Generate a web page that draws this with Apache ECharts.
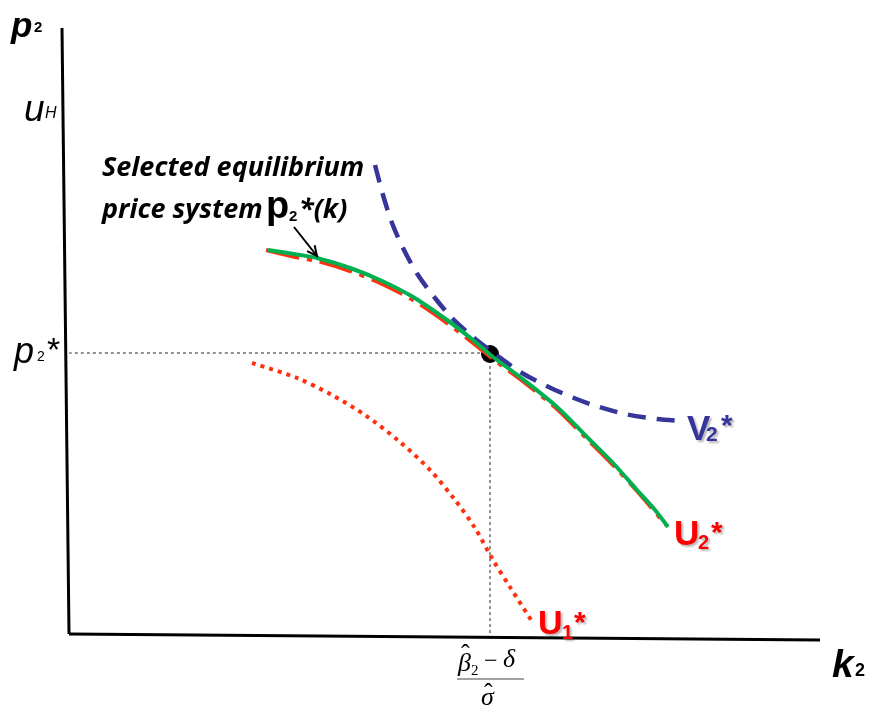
<!DOCTYPE html>
<html>
<head>
<meta charset="utf-8">
<script src="https://cdn.jsdelivr.net/npm/echarts@6/dist/echarts.min.js"></script>
<style>
  html, body { margin: 0; background: #fff; }
  #chart { width: 873px; height: 719px; }
</style>
</head>
<body>
<div id="chart"></div>
<script>
// schematic: k2 along the bottom, p2 up the side (units)
const axisYK = [-7, 0];
const axisYP = [606, 0];
const axisXK = [0, 751];
const axisXP = [0, -6];

// selected equilibrium price system p2*(k)
const greenK = [199, 231, 248, 281, 311, 344, 378, 404, 424, 451, 488, 518, 544, 568, 586, 599];
const greenP = [384, 379, 376, 366, 354, 337, 314, 294, 277, 257, 227, 197, 171, 144, 124, 107];

// U2*
const u2K = [197, 231, 248, 281, 311, 344, 378, 404, 424, 451, 488, 518, 544, 568, 597];
const u2P = [384, 376, 373, 363, 351, 334, 311, 291, 275, 255, 225, 195, 169, 143, 109];

// V2*
const v2K = [306, 314, 323, 335, 349, 366, 383, 404, 426, 453, 486, 521, 556, 588, 613];
const v2P = [469, 439, 411, 384, 359, 336, 316, 297, 280, 261, 244, 230, 220, 215, 213];

// U1*
const u1K = [183, 228, 261, 296, 331, 361, 386, 406, 424, 441, 464];
const u1P = [271, 256, 240, 219, 192, 164, 134, 106, 74, 47, 11];

// equilibrium point
const eqK = 421;
const eqP = 280;

// arrow from the caption to the curve
const arrowK = [225, 248];
const arrowP = [407, 378];

function pts(ks, ps) {
  return ks.map((k, i) => [k, ps[i]]);
}

const chart = echarts.init(document.getElementById('chart'));

function line(data, color, width, type, z) {
  return {
    type: 'line',
    data: data,
    showSymbol: false,
    symbol: 'none',
    smooth: 0.3,
    silent: true,
    z: z,
    lineStyle: { color: color, width: width, type: type, cap: 'butt' }
  };
}

const SANS = '"Liberation Sans", Arial, sans-serif';
const OPEN = '"Open Sans", sans-serif';
const SERIF = '"Liberation Serif", "Times New Roman", serif';
const shadow = { textShadowColor: 'rgba(0,0,0,0.28)', textShadowOffsetX: 2, textShadowOffsetY: 2, textShadowBlur: 2 };

function txt(text, x, y, font, fill, extra) {
  return {
    type: 'text',
    silent: true,
    z: 20,
    style: Object.assign({
      text: text, x: x, y: y, font: font, fill: fill || '#000',
      textAlign: 'left', textVerticalAlign: 'middle'
    }, extra || {})
  };
}

const red = '#ff0000';
const blue = '#35359a';

const texts = [
  // axis names
  txt('p', 11, 27, 'italic bold 35px ' + SANS),
  txt('2', 34, 28, 'bold 15px ' + SANS),
  txt('u', 24, 111, 'italic 37px ' + SANS),
  txt('H', 45, 114, 'italic 16px ' + SANS),
  txt('k', 832, 666, 'italic bold 39px ' + SANS),
  txt('2', 855, 671, 'bold 18px ' + SANS),
  // p2* on the side
  txt('p', 14, 353, 'italic 36px ' + SANS),
  txt('2', 37, 357, '14px ' + SANS),
  txt('*', 47, 352, '34px ' + SANS),
  // caption
  txt('Selected equilibrium', 102, 168, 'italic bold 27px ' + OPEN),
  txt('price system', 102, 210, 'italic bold 27px ' + OPEN),
  txt('p', 266, 208, 'bold 38px ' + SANS),
  txt('2', 289, 217, 'bold 15px ' + SANS),
  txt('*(k)', 299, 210, 'italic bold 27px ' + OPEN),
  // curve labels
  txt('V', 687, 430, 'bold 35px ' + SANS, blue, shadow),
  txt('2', 706, 435, 'bold 21px ' + SANS, blue, shadow),
  txt('*', 721, 427, 'bold 30px ' + SANS, blue, shadow),
  txt('U', 674, 535, 'bold 35px ' + SANS, red, shadow),
  txt('2', 698, 543, 'bold 20px ' + SANS, red, shadow),
  txt('*', 711, 534, 'bold 30px ' + SANS, red, shadow),
  txt('U', 538, 625, 'bold 34px ' + SANS, red, shadow),
  txt('1', 562, 633, 'bold 20px ' + SANS, red, shadow),
  txt('*', 574, 624, 'bold 30px ' + SANS, red, shadow),
  // fraction under the k axis
  txt('\u03b2', 458, 664, 'italic 26px ' + SERIF),
  txt('\u02c6', 461, 655, '26px ' + SERIF),
  txt('2', 471, 671, '15px ' + SERIF),
  txt('\u2212', 484, 662, '24px ' + SERIF),
  txt('\u03b4', 503, 660, 'italic 26px ' + SERIF),
  txt('\u03c3', 481, 698, 'italic 26px ' + SERIF),
  txt('\u02c6', 484, 694, '26px ' + SERIF),
  {
    type: 'line', silent: true,
    shape: { x1: 457, y1: 679, x2: 524, y2: 679 },
    style: { stroke: '#444', lineWidth: 1 }
  }
];

chart.setOption({
  animation: false,
  backgroundColor: '#fff',
  grid: { left: 0, right: 0, top: 0, bottom: 0 },
  xAxis: { type: 'value', min: -69, max: 804, show: false },
  yAxis: { type: 'value', min: -85, max: 634, show: false },
  series: [
    line(pts(axisYK, axisYP), '#000', 3, 'solid', 2),
    line(pts(axisXK, axisXP), '#000', 3, 'solid', 2),
    line([[0, eqP + 1], [eqK, eqP + 1]], '#222', 1, [3, 3], 2),
    line([[eqK, eqP], [eqK, 0]], '#222', 1, [3, 3], 2),
    {
      type: 'scatter',
      data: [[eqK, eqP]],
      symbol: 'circle',
      symbolSize: 18,
      silent: true,
      z: 3,
      itemStyle: { color: '#000', opacity: 1 }
    },
    line(pts(u1K, u1P), '#ff3010', 4, [4, 5], 4),
    line(pts(u2K, u2P), '#ff3010', 4, [34, 8, 5, 8], 5),
    line(pts(v2K, v2P), blue, 4.5, [18, 11], 5),
    line(pts(greenK, greenP), '#00b050', 4, 'solid', 6)
  ]
});

// arrow, placed through the chart's own scale
const a0 = chart.convertToPixel({ gridIndex: 0 }, [arrowK[0], arrowP[0]]);
const a1 = chart.convertToPixel({ gridIndex: 0 }, [arrowK[1], arrowP[1]]);
const ang = Math.atan2(a1[1] - a0[1], a1[0] - a0[0]);
const head = 11;
const h1 = [a1[0] - head * Math.cos(ang - 0.45), a1[1] - head * Math.sin(ang - 0.45)];
const h2 = [a1[0] - head * Math.cos(ang + 0.45), a1[1] - head * Math.sin(ang + 0.45)];

texts.push({
  type: 'line', silent: true, z: 10,
  shape: { x1: a0[0], y1: a0[1], x2: a1[0], y2: a1[1] },
  style: { stroke: '#000', lineWidth: 2 }
});
texts.push({
  type: 'polyline', silent: true, z: 10,
  shape: { points: [h1, a1, h2] },
  style: { stroke: '#000', lineWidth: 2, fill: null }
});

chart.setOption({ graphic: texts });
</script>
</body>
</html>
